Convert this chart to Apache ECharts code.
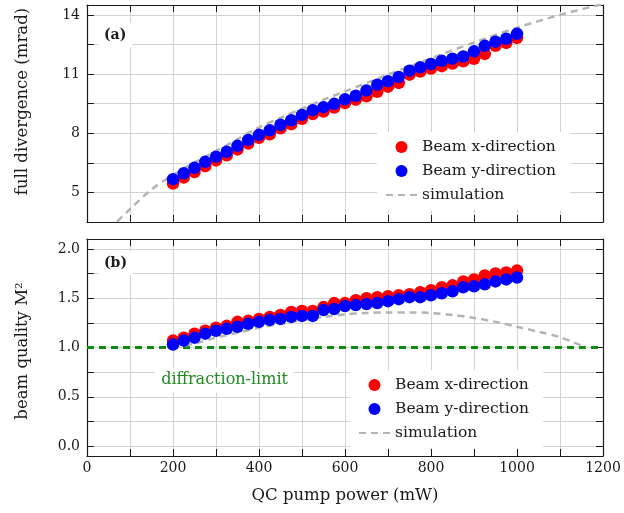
<!DOCTYPE html>
<html>
<head>
<meta charset="utf-8">
<script src="https://cdn.jsdelivr.net/npm/echarts@6/dist/echarts.min.js"></script>
<style>
  html, body { margin: 0; padding: 0; background: #ffffff; }
  #chart { width: 624px; height: 513px; }
</style>
</head>
<body>
<div id="chart"></div>
<script>
// Pump power of every measured point (mW)
const power = [200, 225, 250, 275, 300, 325, 350, 375, 400, 425, 450, 475, 500, 525, 550, 575,
               600, 625, 650, 675, 700, 725, 750, 775, 800, 825, 850, 875, 900, 925, 950, 975, 1000];

// (a) full divergence (mrad)
const divergenceX = [5.45, 5.75, 6.03, 6.33, 6.62, 6.88, 7.18, 7.48, 7.77, 7.95, 8.25, 8.46, 8.73, 8.97, 9.10, 9.30,
                     9.53, 9.70, 9.87, 10.10, 10.36, 10.55, 10.97, 11.13, 11.28, 11.40, 11.53, 11.65, 11.77, 12.02, 12.43, 12.58, 12.83];
const divergenceY = [5.67, 5.97, 6.25, 6.55, 6.81, 7.06, 7.36, 7.66, 7.92, 8.15, 8.43, 8.66, 8.93, 9.17, 9.32, 9.49,
                     9.72, 9.90, 10.17, 10.46, 10.64, 10.85, 11.17, 11.34, 11.51, 11.67, 11.78, 11.89, 12.15, 12.43, 12.64, 12.79, 13.04];
const divergenceSimPower = [50, 100, 150, 200, 250, 300, 350, 400, 450, 500, 550, 600, 700, 800, 900, 1000, 1100, 1200];
const divergenceSim      = [3.1, 4.15, 5.15, 5.88, 6.52, 7.1, 7.7, 8.3, 8.78, 9.25, 9.7, 10.12, 10.97, 11.8, 12.6, 13.35, 14.0, 14.55];

// (b) beam quality M²
const m2X = [1.07, 1.10, 1.14, 1.17, 1.20, 1.22, 1.26, 1.27, 1.29, 1.31, 1.33, 1.36, 1.37, 1.37, 1.41, 1.45,
             1.45, 1.48, 1.50, 1.51, 1.52, 1.53, 1.54, 1.56, 1.58, 1.61, 1.63, 1.67, 1.69, 1.73, 1.75, 1.76, 1.78];
const m2Y = [1.03, 1.07, 1.10, 1.14, 1.17, 1.19, 1.21, 1.24, 1.26, 1.28, 1.29, 1.31, 1.32, 1.32, 1.38, 1.39,
             1.42, 1.43, 1.44, 1.45, 1.47, 1.49, 1.51, 1.51, 1.53, 1.55, 1.57, 1.61, 1.62, 1.64, 1.67, 1.69, 1.71];
const m2SimPower = [200, 250, 300, 350, 400, 450, 500, 550, 600, 650, 700, 750, 800, 850, 900, 950, 1000, 1050, 1100, 1160];
const m2Sim      = [1.0, 1.04, 1.10, 1.15, 1.20, 1.24, 1.28, 1.31, 1.335, 1.35, 1.355, 1.355, 1.35, 1.33, 1.30, 1.26, 1.21, 1.16, 1.105, 1.0];
const diffractionLimit = 1.0;
const diffractionLabelAt = [320, 0.67];

// Axis ticks and labels
const powerTicks  = [0, 100, 200, 300, 400, 500, 600, 700, 800, 900, 1000, 1100, 1200];
const powerLabels = [0, 200, 400, 600, 800, 1000, 1200];
const divTicks  = [5, 6.5, 8, 9.5, 11, 12.5, 14];
const divLabels = [5, 8, 11, 14];
const m2Ticks  = [0, 0.25, 0.5, 0.75, 1, 1.25, 1.5, 1.75, 2];
const m2Labels = [0, 0.5, 1, 1.5, 2];

const SERIF = 'DejaVu Serif';
const INK = '#1a1a1a';
const GRIDLINE = '#d2d2d2';
const RED = '#ff0000';
const BLUE = '#0000ff';
const SIM = '#b4b4b4';
const GREEN = '#118a11';

const zip = (xs, ys) => xs.map((x, i) => [x, ys[i]]);

function xAxes(gridIndex, withLabels) {
  const common = {
    type: 'value', gridIndex, min: 0, max: 1200,
    axisLine: { show: true, onZero: false, lineStyle: { color: INK, width: 1.2 } },
    axisTick: { show: true, inside: true, length: 7, customValues: powerTicks, lineStyle: { color: INK, width: 1 } }
  };
  return [
    Object.assign({}, common, {
      position: 'bottom',
      axisLabel: { show: withLabels, customValues: powerLabels, margin: 5, formatter: v => String(v),
                   fontFamily: SERIF, fontSize: 14, color: INK },
      splitLine: { show: true, lineStyle: { color: GRIDLINE, width: 1 } },
      name: withLabels ? 'QC pump power (mW)' : '',
      nameLocation: 'middle', nameGap: 31,
      nameTextStyle: { fontFamily: SERIF, fontSize: 16.5, color: INK }
    }),
    Object.assign({}, common, {
      position: 'top', axisLabel: { show: false }, splitLine: { show: false }
    })
  ];
}

function yAxes(gridIndex, min, max, ticks, labels, fmt, name, padding) {
  const common = {
    type: 'value', gridIndex, min, max,
    axisLine: { show: true, onZero: false, lineStyle: { color: INK, width: 1.2 } },
    axisTick: { show: true, inside: true, length: 7, customValues: ticks, lineStyle: { color: INK, width: 1 } }
  };
  return [
    Object.assign({}, common, {
      position: 'left',
      axisLabel: { show: true, customValues: labels, margin: 7, formatter: fmt,
                   fontFamily: SERIF, fontSize: 14, color: INK },
      splitLine: { show: true, lineStyle: { color: GRIDLINE, width: 1 } },
      name, nameLocation: 'middle', nameGap: 56,
      nameTextStyle: { fontFamily: SERIF, fontSize: 16.5, color: INK, padding }
    }),
    Object.assign({}, common, {
      position: 'right', axisLabel: { show: false }, splitLine: { show: false }
    })
  ];
}

function panelSeries(axisIndex, xs, ysX, ysY, simX, simY) {
  return [
    {
      name: 'simulation', type: 'line', xAxisIndex: axisIndex, yAxisIndex: axisIndex,
      data: zip(simX, simY), smooth: 0.3, symbol: 'none', clip: true, z: 2,
      lineStyle: { color: SIM, width: 2.5, type: [7, 5] }, itemStyle: { color: SIM }
    },
    {
      name: 'Beam x-direction', type: 'scatter', xAxisIndex: axisIndex, yAxisIndex: axisIndex,
      data: zip(xs, ysX), symbol: 'circle', symbolSize: 12.5, z: 3,
      itemStyle: { color: RED, opacity: 1 }
    },
    {
      name: 'Beam y-direction', type: 'scatter', xAxisIndex: axisIndex, yAxisIndex: axisIndex,
      data: zip(xs, ysY), symbol: 'circle', symbolSize: 12.5, z: 4,
      itemStyle: { color: BLUE, opacity: 1 }
    }
  ];
}

function legendAt(left, top) {
  return {
    orient: 'vertical', left, top,
    data: [
      'Beam x-direction',
      'Beam y-direction',
      { name: 'simulation', itemStyle: { opacity: 0 } }
    ],
    itemWidth: 31, itemHeight: 12, itemGap: 6,
    padding: [6, 14, 6, 8],
    backgroundColor: '#ffffff',
    selectedMode: false,
    textStyle: { fontFamily: SERIF, fontSize: 15.5, color: INK, lineHeight: 18 },
    z: 10
  };
}

const option = {
  animation: false,
  backgroundColor: '#ffffff',
  grid: [
    { left: 87, width: 516, top: 5, height: 217, containLabel: false },
    { left: 87, width: 516, top: 239, height: 217, containLabel: false }
  ],
  xAxis: [].concat(xAxes(0, false), xAxes(1, true)),
  yAxis: [].concat(
    yAxes(0, 3.5, 14.5, divTicks, divLabels, v => String(v), 'full divergence (mrad)', [0, 0, 0, 24]),
    yAxes(1, -0.1, 2.1, m2Ticks, m2Labels, v => v.toFixed(1), 'beam quality M²', [0, 7, 0, 0])
  ),
  legend: [legendAt(377, 132), legendAt(350, 370)],
  series: [].concat(
    panelSeries(0, power, divergenceX, divergenceY, divergenceSimPower, divergenceSim),
    [{
      name: 'diffraction-limit', type: 'line', xAxisIndex: 2, yAxisIndex: 2,
      data: [[0, diffractionLimit], [1200, diffractionLimit]], symbol: 'none', z: 2,
      lineStyle: { color: GREEN, width: 3, type: [7, 5] },
      markPoint: {
        symbol: 'rect', symbolSize: 1, itemStyle: { color: 'rgba(0,0,0,0)' },
        data: [{ coord: diffractionLabelAt }],
        label: {
          show: true, position: 'inside', formatter: 'diffraction-limit',
          fontFamily: SERIF, fontSize: 16, color: '#1f8a1f',
          backgroundColor: '#ffffff', padding: [5, 6, 4, 6]
        }
      }
    }],
    panelSeries(2, power, m2X, m2Y, m2SimPower, m2Sim)
  ),
  graphic: [
    { type: 'text', left: 98, top: 23, z: 100,
      style: { text: '(a)', font: 'bold 14px "DejaVu Serif"', fill: INK,
               backgroundColor: '#ffffff', padding: [5, 6, 5, 6] } },
    { type: 'text', left: 98, top: 251, z: 100,
      style: { text: '(b)', font: 'bold 14px "DejaVu Serif"', fill: INK,
               backgroundColor: '#ffffff', padding: [5, 6, 5, 6] } }
  ]
};

const chart = echarts.init(document.getElementById('chart'));
chart.setOption(option);
</script>
</body>
</html>
